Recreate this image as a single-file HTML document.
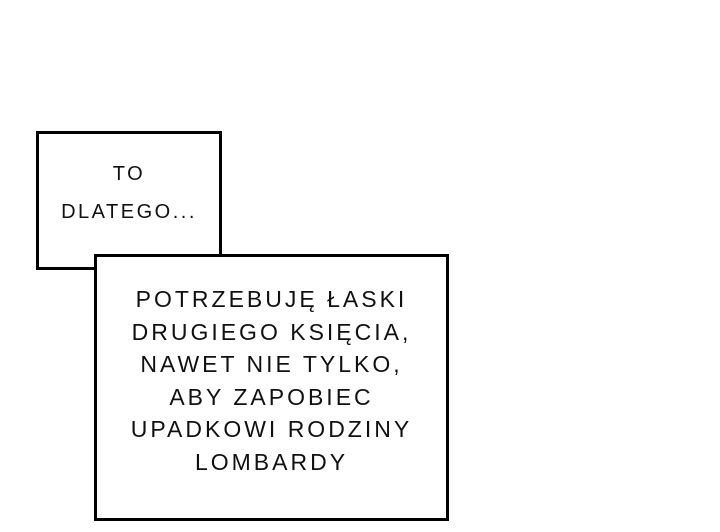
<!DOCTYPE html>
<html><head><style>
body{margin:0;width:720px;height:532px;background:#fff;position:relative;overflow:hidden;font-family:"Liberation Sans",sans-serif;}
.b{position:absolute;border:3px solid #000;background:#fff;box-sizing:border-box;}
.t{position:absolute;text-align:center;color:#111;font-size:23px;letter-spacing:3px;}
</style></head><body>
<div class="b" style="left:36px;top:131px;width:186px;height:139px;"></div>
<div class="b" style="left:94px;top:254px;width:355px;height:267px;"></div>
<div class="t" style="left:36px;top:155px;width:186px;line-height:38px;font-size:20px;letter-spacing:2.5px;">TO<br>DLATEGO...</div>
<div class="t" style="left:94px;top:283px;width:355px;line-height:32.5px;">POTRZEBUJĘ ŁASKI<br>DRUGIEGO KSIĘCIA,<br>NAWET NIE TYLKO,<br>ABY ZAPOBIEC<br>UPADKOWI RODZINY<br>LOMBARDY</div>
</body></html>
